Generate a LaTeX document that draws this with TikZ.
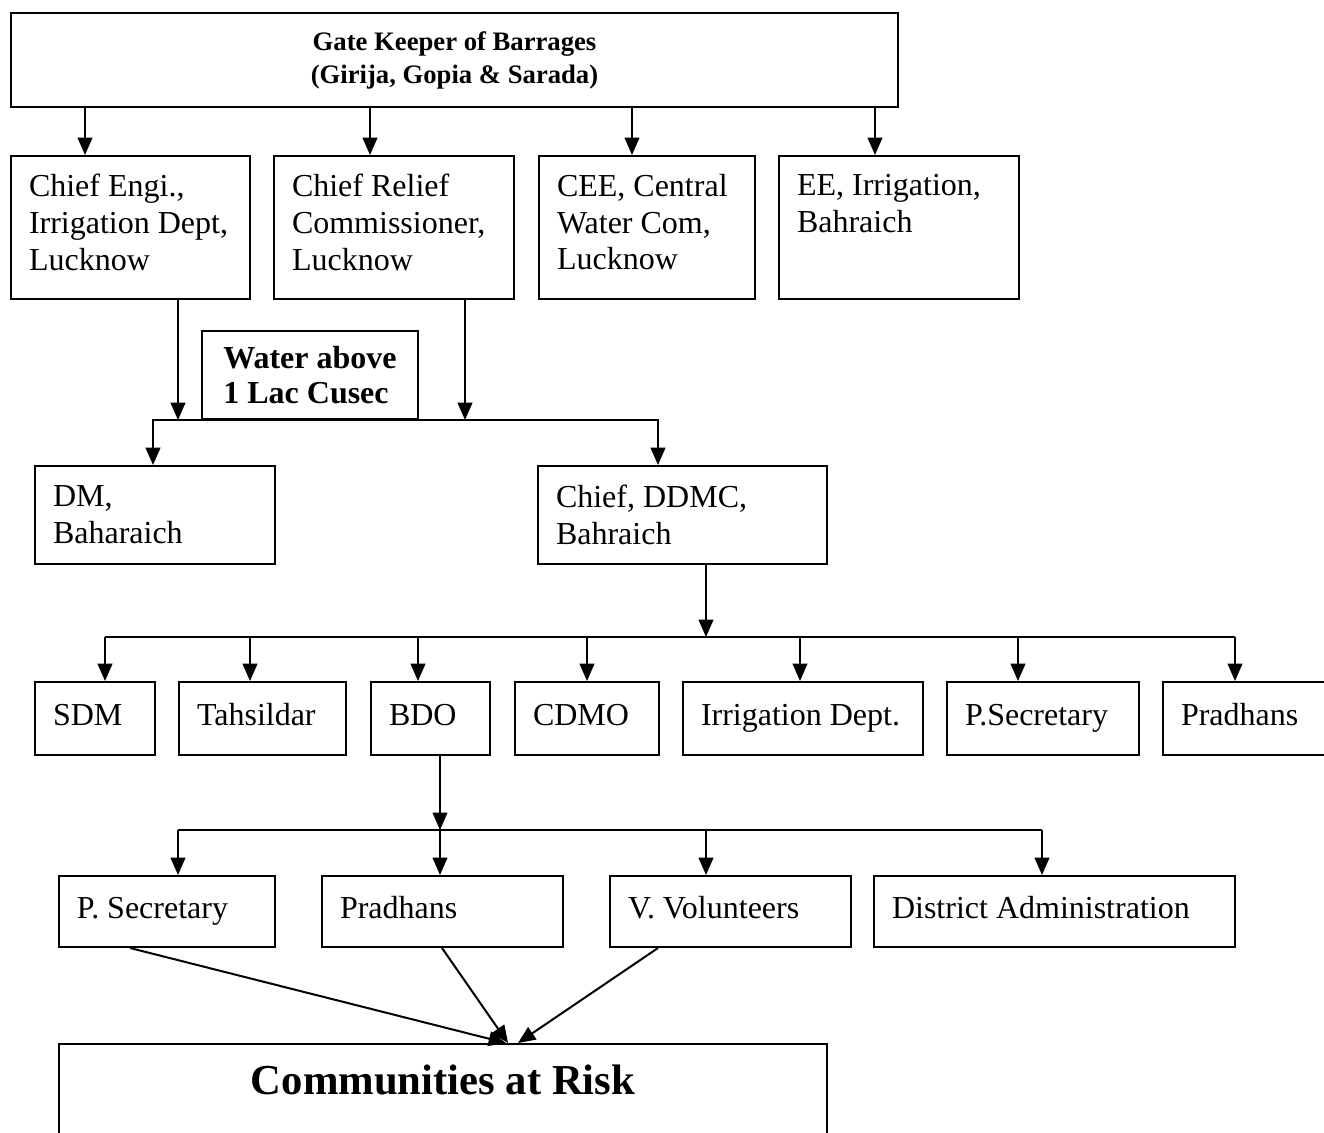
\documentclass[tikz,border=0pt]{standalone}
\usepackage{fontspec}
\setmainfont{Liberation Serif}
\usetikzlibrary{arrows.meta,calc,positioning}
\newdimen\px
\px=0.375pt

\begin{document}
\begin{tikzpicture}[x=0.375pt, y=-0.375pt, line width=0.75pt,
  post/.style 2 args={draw, anchor=north west, align=flush left, inner xsep=6.75pt,
    inner ysep=0pt, text width=#1*\px-36*\px, minimum height=#2*\px,
    font=\fontsize{12}{13.8}\selectfont},
  arr/.style={-{Triangle[width=5.5pt,length=6.5pt]}}]
\useasboundingbox (0,0) rectangle (1324,1133);

\node[draw, anchor=north west, minimum width=887*\px, minimum height=94*\px,
  align=center, font=\bfseries\fontsize{10}{12.4}\selectfont] (gate) at (10,12)
  {Gate Keeper of Barrages\\(Girija, Gopia \& Sarada)};

\node[post={239}{143}] (ce) at (10,155) {Chief Engi.,\\Irrigation Dept,\\Lucknow\strut};
\node[post={240}{143}] (crc) at (273,155) {Chief Relief\\Commissioner,\\Lucknow\strut};
\node[post={216}{143}] (cee) at (538,155) {CEE, Central\\Water Com,\\Lucknow\strut};
\node[post={240}{143}] (ee) at (778,155) {EE, Irrigation,\\Bahraich\\\strut};

\node[draw, anchor=north west, minimum width=216*\px, minimum height=88*\px,
  align=flush left, font=\bfseries\fontsize{12}{13.2}\selectfont] (water) at (201,330)
  {Water above\\1 Lac Cusec};

\node[post={240}{98}] (dm) at (34,465) {DM,\\Baharaich};
\node[post={289}{98}] (ddmc) at (537,465) {Chief, DDMC,\\Bahraich};

\node[post={120}{73}] (sdm) at (34,681) {SDM\strut};
\node[post={167}{73}] (tah) at (178,681) {Tahsildar\strut};
\node[post={119}{73}] (bdo) at (370,681) {BDO\strut};
\node[post={144}{73}] (cdmo) at (514,681) {CDMO\strut};
\node[post={240}{73}] (irr) at (682,681) {Irrigation Dept.\strut};
\node[post={192}{73}] (psec) at (946,681) {P.Secretary\strut};
\node[post={200}{73}] (prad) at (1162,681) {Pradhans\strut};

\node[post={216}{71}] (psec2) at (58,875) {P. Secretary\strut};
\node[post={241}{71}] (pradh2) at (321,875) {Pradhans\strut};
\node[post={241}{71}] (vvol) at (609,875) {V. Volunteers\strut};
\node[post={361}{71}] (dadmin) at (873,875) {District Administration\strut};

\node[draw, anchor=north west, minimum width=768*\px, inner sep=0pt,
  text height=19.1pt, text depth=19pt,
  font=\bfseries\fontsize{16}{19}\selectfont] (risk) at (58,1043) {Communities at Risk};

% gate keeper to the four offices
\foreach \n/\o in {ce/75, crc/97, cee/94, ee/97} {
  \coordinate (\n-in) at ($(\n.north west)+(\o,0)$);
  \draw[arr] (\n-in |- gate.south) -- (\n-in);
}

\coordinate (ce-out) at ($(ce.south west)+(168,0)$);
\coordinate (crc-out) at ($(crc.south west)+(192,0)$);
\draw[arr] (ce-out) -- (ce-out |- water.south);
\draw[arr] (crc-out) -- (crc-out |- water.south);

\coordinate (dm-in) at ($(dm.north west)+(119,0)$);
\coordinate (ddmc-in) at ($(ddmc.north west)+(121,0)$);
\draw[arr] (ddmc-in |- water.south) -| (dm-in);
\draw[arr] (dm-in |- water.south) -| (ddmc-in);

% district level
\coordinate (ddmc-out) at ($(ddmc.south west)+(169,0)$);
\coordinate (bus2) at ($(ddmc-out)+(0,72)$);
\draw[arr] (ddmc-out) -- (bus2);
\foreach \n/\o in {sdm/71, tah/72, bdo/48, cdmo/73, irr/118, psec/72, prad/73} {
  \coordinate (\n-in) at ($(\n.north west)+(\o,0)$);
  \draw[arr] (\n-in |- bus2) -- (\n-in);
}
\draw (sdm-in |- bus2) -- (prad-in |- bus2);

% block level
\coordinate (bdo-out) at ($(bdo.south west)+(70,0)$);
\coordinate (bus3) at ($(bdo-out)+(0,74)$);
\draw[arr] (bdo-out) -- (bus3);
\foreach \n/\o in {psec2/120, pradh2/119, vvol/97, dadmin/169} {
  \coordinate (\n-in) at ($(\n.north west)+(\o,0)$);
  \draw[arr] (\n-in |- bus3) -- (\n-in);
}
\draw (psec2-in |- bus3) -- (dadmin-in |- bus3);

\coordinate (psec2-out) at ($(psec2.south west)+(72,0)$);
\coordinate (pradh2-out) at ($(pradh2.south west)+(121,0)$);
\coordinate (vvol-out) at ($(vvol.south west)+(49,0)$);
\draw[arr] (psec2-out) -- ($(risk.north west)+(448,0)$);
\draw[arr] (pradh2-out) -- ($(risk.north west)+(450,0)$);
\draw[arr] (vvol-out) -- ($(risk.north west)+(460,0)$);
\end{tikzpicture}
\end{document}
